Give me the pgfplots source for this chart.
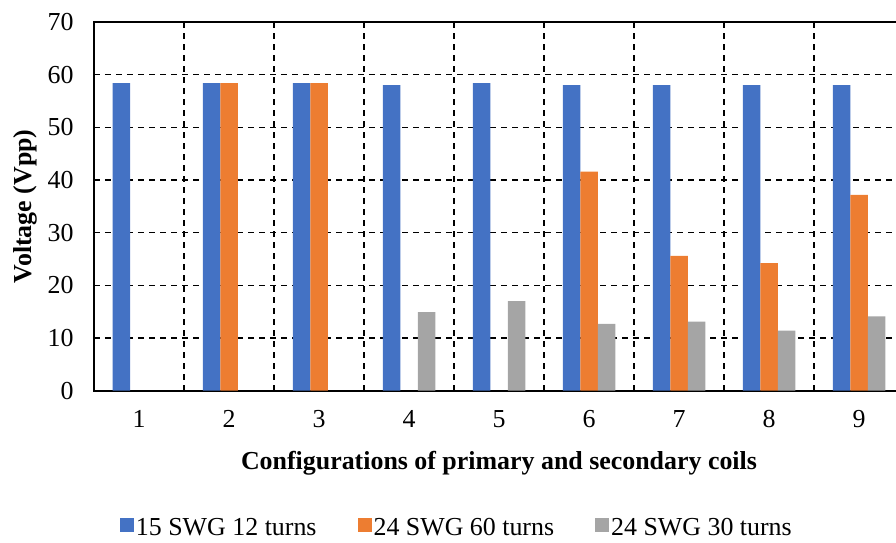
\documentclass[border=0pt]{standalone}
\usepackage{fontspec}
\setmainfont{Liberation Serif}
\usepackage{pgfplots}
\pgfplotsset{compat=1.18}
\definecolor{cblue}{HTML}{4472C4}
\definecolor{corange}{HTML}{ED7D31}
\definecolor{cgray}{HTML}{A5A5A5}
\begin{document}
\begin{tikzpicture}[x=1bp,y=1bp]
\useasboundingbox (-94,-152.3) rectangle (802,390.7);
\clip (-94,-152.3) rectangle (802,390.7);
\begin{axis}[
  at={(0,0)}, anchor=south west,
  scale only axis, width=810bp, height=368.7bp,
  xmin=0.5, xmax=9.5, ymin=0, ymax=70,
  xtick={1,...,9}, ytick={0,10,...,70},
  minor xtick={1.5,2.5,...,8.5},
  xminorgrids, ymajorgrids,
  grid style={black, dash pattern=on 6bp off 5bp, line width=1.6bp},
  minor grid style={black, dash pattern=on 6bp off 5bp, line width=1.6bp},
  major tick length=0, minor tick length=0,
  axis line style={line width=2.2bp},
  ybar=0pt, bar width=17.5bp,
  ticklabel style={font=\fontsize{26}{30}\selectfont},
  xticklabel style={yshift=-16bp},
  yticklabel style={xshift=-17bp},
  /pgf/number format/assume math mode=true,
  xlabel={Configurations of primary and secondary coils},
  ylabel={Voltage (Vpp)},
  label style={font=\fontsize{26}{30}\selectfont\bfseries},
  xlabel style={at={(axis description cs:0.5,-0.196)}, anchor=center},
  ylabel style={at={(axis description cs:-0.0852,0.5)}, anchor=center},
  legend style={at={(axis description cs:0.448,-0.372)}, anchor=center, draw=none, fill=none,
    legend columns=3, font=\fontsize{26}{30}\selectfont,
    /tikz/every even column/.append style={column sep=39bp}},
  legend image code/.code={\fill[#1] (0bp,-4bp) rectangle (14bp,10bp);},
]
\addplot[fill=cblue, draw=none] coordinates {(1,58.4)(2,58.4)(3,58.4)(4,58.0)(5,58.4)(6,58.0)(7,58.0)(8,58.0)(9,58.0)};
\addplot[fill=corange, draw=none] coordinates {(2,58.4)(3,58.4)(6,41.6)(7,25.6)(8,24.2)(9,37.2)};
\addplot[fill=cgray, draw=none] coordinates {(4,14.9)(5,17.0)(6,12.7)(7,13.1)(8,11.4)(9,14.1)};
\legend{15 SWG 12 turns, 24 SWG 60 turns, 24 SWG 30 turns}
\end{axis}
\end{tikzpicture}
\end{document}
